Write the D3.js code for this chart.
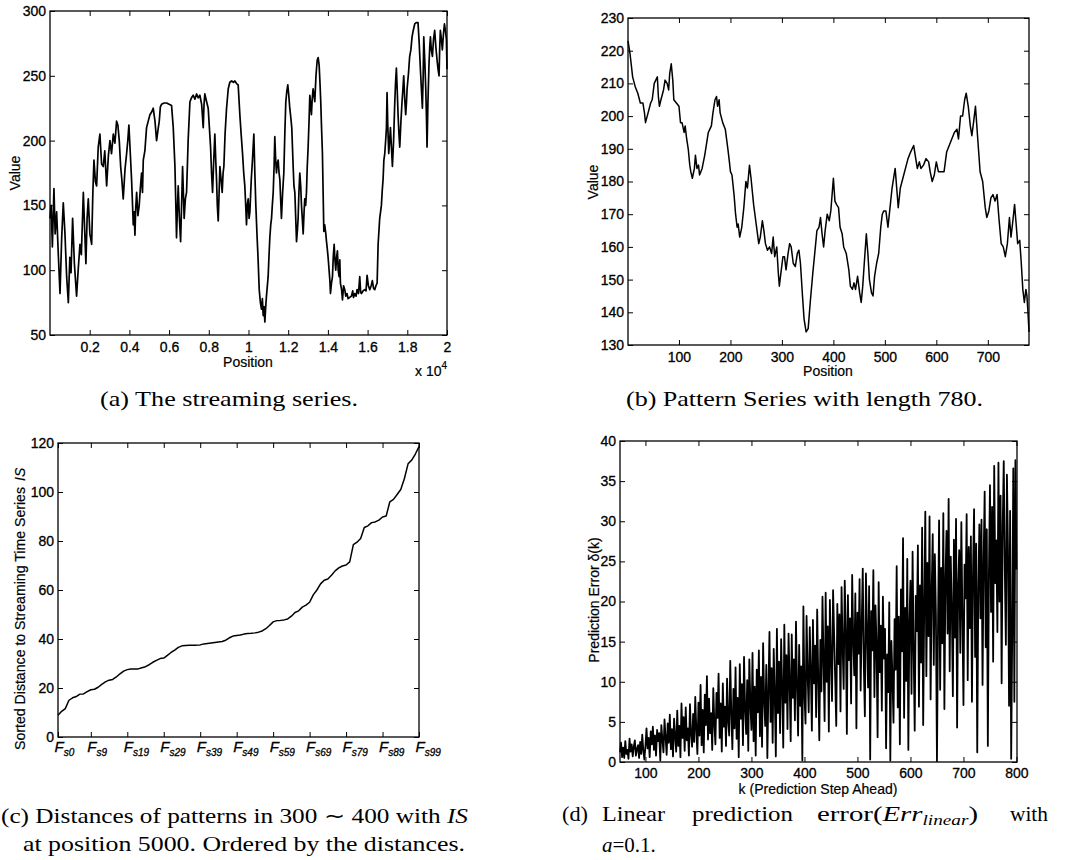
<!DOCTYPE html>
<html>
<head>
<meta charset="utf-8">
<script src="https://cdn.jsdelivr.net/npm/d3@7"></script>
<style>
  body { margin: 0; background: #fff; }
  svg { display: block; }
  .tick text { font-family: "Liberation Sans", Arial, Helvetica, sans-serif; font-size: 14px; fill: #000; stroke: #000; stroke-width: 0.3px; }
  .tick line { stroke: #000; }
  .lbl { font-family: "Liberation Sans", Arial, Helvetica, sans-serif; font-size: 14px; fill: #000; stroke: #000; stroke-width: 0.2px; }
  .cap { font-family: "Liberation Serif", "Times New Roman", serif; font-size: 21px; fill: #000; }
</style>
</head>
<body>
<script>
// values

// (a) the streaming series, position / value
const streamPos = [
  1, 60, 120, 200, 260, 335, 420, 505, 590, 670,
  755, 840, 925, 1000, 1060, 1140, 1230, 1340, 1420, 1510,
  1580, 1680, 1750, 1810, 1870, 1930, 2010, 2100, 2160, 2215,
  2290, 2350, 2430, 2515, 2600, 2685, 2760, 2855, 2940, 3020,
  3100, 3190, 3270, 3355, 3420, 3490, 3560, 3620, 3690, 3780,
  3860, 3920, 3975, 4040, 4110, 4160, 4195, 4240, 4280, 4320,
  4365, 4430, 4495, 4560, 4615, 4660, 4700, 4780, 4865, 4950,
  5035, 5120, 5200, 5290, 5370, 5440, 5505, 5560, 5620, 5750,
  5875, 6000, 6125, 6210, 6295, 6340, 6375, 6420, 6460, 6520,
  6580, 6630, 6680, 6720, 6760, 6820, 6880, 6960, 7050, 7130,
  7215, 7300, 7385, 7470, 7550, 7640, 7720, 7760, 7800, 7890,
  7970, 8030, 8090, 8140, 8190, 8250, 8305, 8350, 8390, 8430,
  8475, 8520, 8560, 8620, 8675, 8720, 8760, 8820, 8895, 8980,
  9060, 9150, 9240, 9315, 9400, 9480, 9565, 9630, 9700, 9760,
  9815, 9860, 9900, 9940, 9985, 10030, 10070, 10140, 10200, 10270,
  10320, 10370, 10435, 10480, 10540, 10600, 10655, 10700, 10740, 10780,
  10825, 10860, 10905, 10990, 11030, 11075, 11120, 11160, 11200, 11245,
  11290, 11325, 11370, 11410, 11450, 11495, 11540, 11580, 11620, 11660,
  11720, 11780, 11830, 11880, 11930, 11980, 12030, 12080, 12130, 12180,
  12250, 12290, 12335, 12380, 12420, 12460, 12500, 12540, 12585, 12630,
  12670, 12710, 12755, 12800, 12835, 12880, 12920, 12960, 13005, 13050,
  13090, 13130, 13170, 13210, 13255, 13300, 13340, 13400, 13460, 13510,
  13560, 13600, 13640, 13680, 13725, 13760, 13795, 13840, 13895, 13930,
  13960, 14010, 14060, 14100, 14130, 14180, 14230, 14270, 14315, 14355,
  14395, 14440, 14480, 14520, 14565, 14600, 14630, 14690, 14735, 14790,
  14850, 14900, 14960, 15020, 15100, 15185, 15250, 15290, 15355, 15420,
  15470, 15540, 15605, 15650, 15690, 15770, 15855, 15920, 15975, 16040,
  16110, 16180, 16240, 16300, 16360, 16420, 16480, 16530, 16610, 16695,
  16740, 16780, 16820, 16865, 16910, 16950, 16980, 17020, 17065, 17110,
  17150, 17200, 17250, 17310, 17370, 17410, 17450, 17490, 17535, 17580,
  17620, 17680, 17735, 17780, 17820, 17870, 17920, 17960, 17990, 18060,
  18120, 18180, 18240, 18300, 18375, 18450, 18540, 18600, 18660, 18710,
  18760, 18800, 18830, 18880, 18930, 18970, 18995, 19040, 19095, 19130,
  19165, 19210, 19265, 19320, 19380, 19440, 19500, 19550, 19600, 19630,
  19665, 19720, 19765, 19820, 19870, 19920, 19970, 20000
];
const streamVal = [
  140, 150, 118, 163, 128, 145, 112, 82, 125, 152,
  128, 95, 75, 110, 98, 140, 105, 80, 100, 120,
  112, 160, 130, 105, 140, 155, 128, 120, 160, 185,
  168, 165, 195, 205, 182, 180, 192, 165, 188, 200,
  190, 205, 198, 215, 212, 200, 180, 170, 155, 178,
  190, 200, 212, 192, 170, 150, 135, 145, 127, 148,
  160, 142, 150, 165, 175, 160, 185, 192, 210, 215,
  220, 222, 225, 215, 200, 208, 215, 226, 228, 229,
  229, 228, 227, 210, 180, 150, 125, 148, 165, 140,
  122, 150, 180, 160, 140, 155, 160, 200, 230, 233,
  235, 232, 236, 233, 235, 228, 210, 228, 236, 230,
  225, 210, 195, 175, 160, 185, 205, 185, 170, 150,
  138, 160, 180, 170, 160, 175, 180, 205, 225, 240,
  245, 246, 245, 246, 244, 243, 220, 205, 190, 175,
  165, 150, 135, 150, 155, 140, 145, 170, 185, 205,
  175, 150, 125, 110, 85, 75, 70, 78, 65, 72,
  60, 70, 80, 95, 110, 125, 135, 140, 150, 160,
  180, 203, 185, 175, 182, 185, 175, 170, 155, 140,
  160, 175, 205, 230, 238, 243, 235, 225, 218, 210,
  180, 165, 160, 140, 122, 130, 140, 160, 175, 165,
  150, 140, 128, 145, 155, 150, 160, 180, 195, 215,
  235, 228, 220, 232, 240, 235, 230, 250, 262, 264,
  258, 245, 230, 210, 190, 160, 130, 135, 128, 122,
  118, 110, 100, 92, 82, 90, 95, 110, 120, 108,
  100, 110, 115, 100, 95, 108, 90, 85, 77, 88,
  85, 80, 82, 78, 79, 80, 84, 79, 82, 80,
  85, 82, 95, 83, 82, 84, 85, 84, 96, 88,
  85, 88, 92, 86, 85, 88, 90, 120, 140, 150,
  162, 170, 185, 190, 200, 210, 237, 210, 190, 200,
  210, 195, 180, 200, 230, 245, 256, 240, 220, 205,
  195, 215, 230, 240, 250, 232, 220, 230, 240, 252,
  265, 270, 280, 285, 290, 291, 291, 275, 255, 240,
  225, 250, 280, 262, 240, 215, 195, 230, 260, 272,
  280, 270, 265, 278, 285, 272, 262, 255, 250, 270,
  285, 278, 270, 282, 290, 285, 278, 255
];

// (b) pattern series of length 780
const patternPos = [
  1, 5, 10, 15, 20, 25, 30, 33, 35, 40,
  45, 48, 52, 55, 58, 60, 62, 65, 70, 73,
  77, 80, 82, 85, 88, 90, 95, 100, 103, 106,
  110, 112, 115, 118, 121, 123, 126, 130, 132, 135,
  138, 140, 145, 150, 153, 157, 160, 163, 166, 170,
  173, 175, 178, 180, 185, 190, 195, 198, 200, 203,
  207, 210, 213, 215, 218, 222, 226, 230, 233, 237,
  240, 245, 250, 255, 258, 262, 265, 268, 272, 276,
  280, 283, 286, 290, 293, 295, 298, 302, 305, 308,
  312, 315, 318, 322, 326, 330, 333, 336, 340, 343,
  347, 351, 355, 360, 365, 368, 372, 375, 378, 381,
  384, 388, 392, 395, 398, 400, 403, 406, 410, 413,
  417, 420, 425, 430, 433, 437, 440, 443, 447, 451,
  454, 457, 460, 464, 467, 470, 474, 477, 480, 484,
  488, 492, 495, 498, 502, 506, 510, 514, 517, 520,
  523, 526, 530, 535, 540, 545, 550, 553, 556, 560,
  563, 567, 570, 575, 580, 585, 588, 592, 596, 600,
  604, 610, 615, 620, 625, 630, 635, 640, 643, 647,
  651, 655, 658, 662, 666, 669, 673, 676, 680, 685,
  690, 695, 698, 702, 706, 710, 714, 718, 722, 726,
  730, 734, 738, 742, 745, 748, 752, 755, 758, 762,
  765, 768, 771, 774, 776, 778, 780
];
const patternVal = [
  223, 219, 212, 209, 207, 204, 204, 201, 198, 201,
  204, 205, 210, 211, 212, 206, 203, 205, 208, 211,
  210, 208, 213, 216, 211, 205, 204, 203, 198, 198,
  195, 197, 193, 190, 185, 183, 181, 184, 188, 184,
  185, 182, 184, 188, 191, 195, 196, 197, 201, 205,
  206, 203, 205, 201, 198, 196, 190, 186, 183, 182,
  176, 170, 166, 167, 163, 166, 172, 180, 178, 185,
  181, 173, 167, 161, 163, 168, 165, 161, 159, 160,
  158, 163, 157, 160, 152, 148, 152, 157, 157, 153,
  158, 161, 160, 155, 154, 158, 159, 155, 145, 138,
  134, 135, 143, 152, 160, 165, 166, 169, 164, 160,
  165, 170, 168, 171, 177, 181, 174, 173, 172, 166,
  164, 160, 158, 153, 148, 147, 149, 147, 151, 146,
  143, 148, 155, 164, 158, 150, 146, 145, 151, 155,
  158, 166, 170, 171, 171, 166, 172, 178, 181, 184,
  178, 172, 178, 181, 184, 187, 189, 190, 191, 187,
  184, 186, 184, 185, 187, 186, 183, 180, 182, 186,
  183, 183, 183, 189, 191, 193, 195, 196, 193, 200,
  200, 205, 207, 203, 197, 194, 199, 203, 194, 183,
  180, 172, 169, 171, 175, 176, 174, 176, 168, 161,
  160, 157, 161, 169, 163, 167, 173, 167, 161, 162,
  155, 147, 143, 147, 145, 140, 134
];

// (c) sorted distances of the patterns F_s0 .. F_s99
const distVal = [
  8.9, 10.5, 11.6, 15, 16, 16.5, 17.5, 17.6, 18.5, 19.3,
  19.5, 20.3, 21.5, 22.5, 23.2, 23.5, 24.5, 25.8, 26.9, 27.5,
  27.8, 27.8, 27.8, 28.3, 28.7, 29.5, 30.5, 31.3, 32, 32.2,
  33.3, 34.5, 35.5, 36.6, 37.2, 37.3, 37.4, 37.5, 37.5, 37.6,
  38, 38.2, 38.4, 38.6, 38.8, 39, 39.5, 40.5, 41.2, 41.4,
  41.6, 42, 42.2, 42.3, 42.5, 42.8, 43.3, 44.2, 45.5, 47,
  47.5, 47.6, 47.8, 48.2, 49.3, 50.8, 51.5, 53, 53.8, 55,
  58, 60, 62.5, 64, 64.5, 66, 67.8, 69, 69.8, 70.2,
  71.5, 78.5, 79.5, 81, 85.5, 86.2, 87.5, 87.8, 88.5, 89.8,
  90.2, 96, 97, 99, 101, 105.5, 111.5, 113, 115.5, 118.5
];
const distTicks = [0, 9, 19, 29, 39, 49, 59, 69, 79, 89, 99];

// (d) prediction error, one value every 2 steps from k = 52
const errStart = 52, errStep = 2;
const errVal = [
  1.2, 2.4, 0.6, 1.8, 0.5, 2.6, 1.0, 1.5, 0.4, 2.9,
  1.3, 2.2, 0.7, 1.9, 2.7, 0.8, 1.6, 2.1, 0.5, 2.5,
  1.0, 3.4, 1.4, 0.3, 2.0, 4.2, 1.7, 3.0, 0.6, 3.8,
  2.2, 4.4, 1.5, 3.3, 0.8, 4.0, 2.6, 3.6, 0.2, 4.6,
  2.8, 1.2, 5.3, 3.1, 0.9, 4.8, 2.4, 5.9, 1.6, 4.1,
  0.7, 5.4, 3.2, 1.3, 6.4, 2.0, 4.5, 0.6, 7.3, 3.0,
  5.6, 1.4, 6.8, 2.7, 4.2, 0.8, 7.2, 3.5, 1.9, 6.0,
  2.5, 8.1, 4.0, 1.0, 7.4, 3.3, 9.6, 2.1, 6.5, 1.2,
  8.4, 4.6, 10.7, 2.8, 7.9, 3.6, 6.1, 1.5, 9.2, 4.8,
  2.2, 8.6, 5.5, 11.0, 3.0, 7.3, 1.3, 9.8, 4.4, 6.9,
  2.0, 10.4, 5.1, 3.3, 12.6, 6.0, 1.6, 9.1, 4.2, 11.8,
  2.9, 8.0, 0.6, 12.2, 5.4, 9.7, 2.1, 13.1, 6.6, 3.5,
  10.2, 1.4, 12.8, 7.2, 4.0, 13.6, 2.6, 9.4, 0.8, 11.5,
  6.2, 13.9, 3.2, 10.6, 1.9, 14.8, 7.7, 4.5, 12.1, 0.5,
  9.0, 16.2, 5.0, 11.7, 2.4, 14.1, 8.3, 0.7, 16.6, 6.1,
  12.5, 3.6, 15.3, 9.2, 1.8, 17.1, 7.4, 13.3, 4.1, 16.0,
  10.2, 2.6, 15.9, 8.0, 12.8, 5.2, 17.5, 9.5, 3.3, 14.6,
  7.0, 11.9, 0.2, 19.4, 8.4, 4.8, 18.2, 10.9, 6.2, 16.8,
  11.4, 3.9, 17.7, 9.8, 14.5, 5.6, 19.0, 10.5, 2.7, 15.2,
  8.8, 20.6, 12.6, 5.1, 21.1, 10.0, 16.9, 3.8, 20.2, 13.0,
  7.6, 21.4, 15.8, 10.3, 4.5, 19.7, 12.2, 18.4, 6.3, 21.8,
  14.4, 9.1, 22.6, 16.5, 3.5, 20.8, 12.7, 17.9, 7.3, 23.3,
  15.3, 10.8, 21.0, 4.2, 18.6, 13.5, 22.8, 8.9, 17.2, 24.1,
  12.0, 5.7, 23.5, 16.4, 9.3, 21.9, 0.3, 18.8, 13.9, 23.9,
  8.1, 19.5, 14.7, 3.1, 22.4, 11.2, 17.0, 6.4, 20.6, 12.9,
  16.6, 1.7, 13.4, 8.7, 19.9, 0.2, 15.1, 10.6, 4.9, 17.8,
  11.5, 24.4, 6.8, 18.1, 2.2, 21.5, 13.8, 27.9, 5.5, 19.2,
  10.1, 25.3, 1.5, 17.4, 22.6, 8.5, 26.2, 14.0, 3.9, 20.7,
  16.3, 27.0, 6.9, 22.0, 12.4, 29.2, 4.6, 19.6, 31.2, 10.7,
  24.8, 15.7, 30.6, 7.8, 21.3, 28.4, 12.1, 25.9, 18.5, 0.1,
  17.2, 30.1, 9.0, 24.2, 14.8, 31.0, 6.6, 22.7, 28.8, 16.0,
  32.8, 11.3, 25.6, 19.1, 8.2, 27.7, 15.5, 30.3, 4.3, 22.1,
  26.4, 13.6, 29.9, 18.0, 7.1, 24.6, 20.4, 30.9, 10.2, 26.8,
  16.7, 28.1, 7.5, 23.7, 31.5, 13.1, 27.2, 1.2, 21.6, 29.6,
  17.9, 30.2, 9.6, 25.0, 33.7, 14.3, 29.0, 2.0, 23.4, 34.5,
  18.7, 31.8, 12.5, 36.9, 22.3, 27.6, 16.2, 37.3, 20.0, 33.2,
  9.8, 29.4, 37.5, 24.0, 14.6, 35.8, 26.5, 7.0, 31.3, 0.4,
  16.0, 36.6, 7.5, 37.6, 24.0
];

// tick values
const streamXTicks = [2000, 4000, 6000, 8000, 10000, 12000, 14000, 16000, 18000, 20000];
const streamYTicks = [50, 100, 150, 200, 250, 300];
const patternXTicks = [100, 200, 300, 400, 500, 600, 700];
const patternYTicks = [130, 140, 150, 160, 170, 180, 190, 200, 210, 220, 230];
const distYTicks = [0, 20, 40, 60, 80, 100, 120];
const errXTicks = [100, 200, 300, 400, 500, 600, 700, 800];
const errYTicks = [0, 5, 10, 15, 20, 25, 30, 35, 40];

var svg = d3.select("body").append("svg")
    .attr("width", 1069)
    .attr("height", 860);

svg.append("rect").attr("width", 1069).attr("height", 860).attr("fill", "#fff");

// one matlab style axes box: line, ticks pointing inwards on all four sides
function drawPanel(p) {
    var g = svg.append("g").attr("transform", `translate(${p.left},${p.top})`);

    var xScale = d3.scaleLinear().domain(p.xDomain).range([0, p.width]);
    var yScale = d3.scaleLinear().domain(p.yDomain).range([p.height, 0]);

    g.append("path")
        .datum(p.points)
        .attr("fill", "none")
        .attr("stroke", "#000")
        .attr("stroke-width", p.lineWidth)
        .attr("stroke-linejoin", "round")
        .attr("d", d3.line().x(d => xScale(d[0])).y(d => yScale(d[1])));

    var xAxis = g.append("g")
        .attr("transform", `translate(0,${p.height})`)
        .call(d3.axisBottom(xScale).tickValues(p.xTicks).tickFormat(p.xFormat)
            .tickSize(-5).tickSizeOuter(0).tickPadding(p.xPad));

    var yAxis = g.append("g")
        .call(d3.axisLeft(yScale).tickValues(p.yTicks)
            .tickSize(-5).tickSizeOuter(0).tickPadding(p.yPad));

    // mirrored ticks, no labels
    g.append("g")
        .call(d3.axisTop(xScale).tickValues(p.xTicks).tickFormat("").tickSize(-5).tickSizeOuter(0));
    g.append("g")
        .attr("transform", `translate(${p.width},0)`)
        .call(d3.axisRight(yScale).tickValues(p.yTicks).tickFormat("").tickSize(-5).tickSizeOuter(0));

    g.selectAll(".domain").remove();

    g.append("rect")
        .attr("width", p.width)
        .attr("height", p.height)
        .attr("fill", "none")
        .attr("stroke", "#000")
        .attr("stroke-width", 1.3);

    return { g: g, xAxis: xAxis, yAxis: yAxis };
}

// (a)
drawPanel({
    left: 50, top: 11, width: 397, height: 324,
    xDomain: [1, 20000], yDomain: [50, 300],
    xTicks: streamXTicks, yTicks: streamYTicks,
    xFormat: d => String(+(d / 10000).toFixed(1)),
    xPad: 7, yPad: 4, lineWidth: 1.7,
    points: d3.zip(streamPos, streamVal)
});

// (b)
drawPanel({
    left: 628, top: 18, width: 401, height: 327,
    xDomain: [1, 780], yDomain: [130, 230],
    xTicks: patternXTicks, yTicks: patternYTicks,
    xFormat: d3.format("d"),
    xPad: 7, yPad: 4, lineWidth: 1.5,
    points: d3.zip(patternPos, patternVal)
});

// (c)
var pc = drawPanel({
    left: 58, top: 443, width: 361, height: 294,
    xDomain: [0, 99], yDomain: [0, 120],
    xTicks: distTicks, yTicks: distYTicks,
    xFormat: d => "",
    xPad: 7, yPad: 4, lineWidth: 1.5,
    points: distVal.map((v, i) => [i, v])
});

// F_s labels under the ticks
pc.xAxis.selectAll(".tick text")
    .attr("dy", null)
    .attr("y", 15)
    .attr("x", -4)
    .attr("text-anchor", "start")
    .style("font-style", "italic")
    .call(t => {
        t.append("tspan").style("font-size", "15px").text("F");
        t.append("tspan").attr("dy", 4).style("font-size", "10px").text(d => "s" + d);
    });

// (d)
drawPanel({
    left: 620, top: 441, width: 397, height: 321,
    xDomain: [52, 801], yDomain: [0, 40],
    xTicks: errXTicks, yTicks: errYTicks,
    xFormat: d3.format("d"),
    xPad: 6, yPad: 4, lineWidth: 1.8,
    points: errVal.map((v, i) => [errStart + i * errStep, v])
});

// axis labels
function yLabel(x, y, txt) {
    svg.append("text").attr("class", "lbl")
        .attr("transform", `translate(${x},${y}) rotate(-90)`)
        .attr("text-anchor", "middle")
        .attr("dy", "0.35em")
        .text(txt);
}
function xLabel(x, y, txt) {
    svg.append("text").attr("class", "lbl")
        .attr("x", x).attr("y", y)
        .attr("text-anchor", "middle")
        .text(txt);
}

yLabel(15, 173, "Value");
xLabel(248, 367, "Position");
var exp = svg.append("text").attr("class", "lbl").attr("x", 415).attr("y", 376);
exp.append("tspan").text("x 10");
exp.append("tspan").attr("dy", -7).style("font-size", "10px").text("4");

yLabel(593, 182, "Value");
xLabel(828, 376, "Position");

// long y label of (c), the IS part sits a little apart near the top
svg.append("text").attr("class", "lbl")
    .attr("transform", "translate(20,750) rotate(-90)")
    .attr("dy", "0.35em")
    .attr("textLength", 263).attr("lengthAdjust", "spacingAndGlyphs")
    .text("Sorted Distance to Streaming Time Series");
svg.append("text").attr("class", "lbl")
    .attr("transform", "translate(20,481) rotate(-90)")
    .attr("dy", "0.35em")
    .style("font-style", "italic")
    .text("IS");

yLabel(594, 600, "Prediction Error \u03b4(k)");
xLabel(818, 794, "k (Prediction Step Ahead)");

// captions under each plot
function caption(x, y, w, txt) {
    return svg.append("text").attr("class", "cap")
        .attr("x", x).attr("y", y)
        .attr("textLength", w).attr("lengthAdjust", "spacingAndGlyphs")
        .text(txt);
}

caption(100, 406, 258, "(a) The streaming series.");
caption(626, 406, 357, "(b) Pattern Series with length 780.");

var c1 = svg.append("text").attr("class", "cap")
    .attr("x", 1).attr("y", 823)
    .attr("textLength", 467).attr("lengthAdjust", "spacingAndGlyphs");
c1.append("tspan").text("(c) Distances of patterns in 300 \u223c 400 with ");
c1.append("tspan").style("font-style", "italic").text("IS");
caption(23, 851, 442, "at position 5000. Ordered by the distances.");

caption(562, 821, 26, "(d)");
caption(602, 821, 63, "Linear");
caption(692, 821, 101, "prediction");
var d1 = svg.append("text").attr("class", "cap")
    .attr("x", 817).attr("y", 821)
    .attr("textLength", 161).attr("lengthAdjust", "spacingAndGlyphs");
d1.append("tspan").text("error(");
d1.append("tspan").style("font-style", "italic").text("Err");
d1.append("tspan").attr("dy", 4).style("font-style", "italic").style("font-size", "14px").text("linear");
d1.append("tspan").attr("dy", -4).text(")");
caption(1010, 821, 38, "with");
var d2 = svg.append("text").attr("class", "cap").attr("x", 602).attr("y", 852);
d2.append("tspan").style("font-style", "italic").text("a");
d2.append("tspan").text("=0.1.");
</script>
</body>
</html>
